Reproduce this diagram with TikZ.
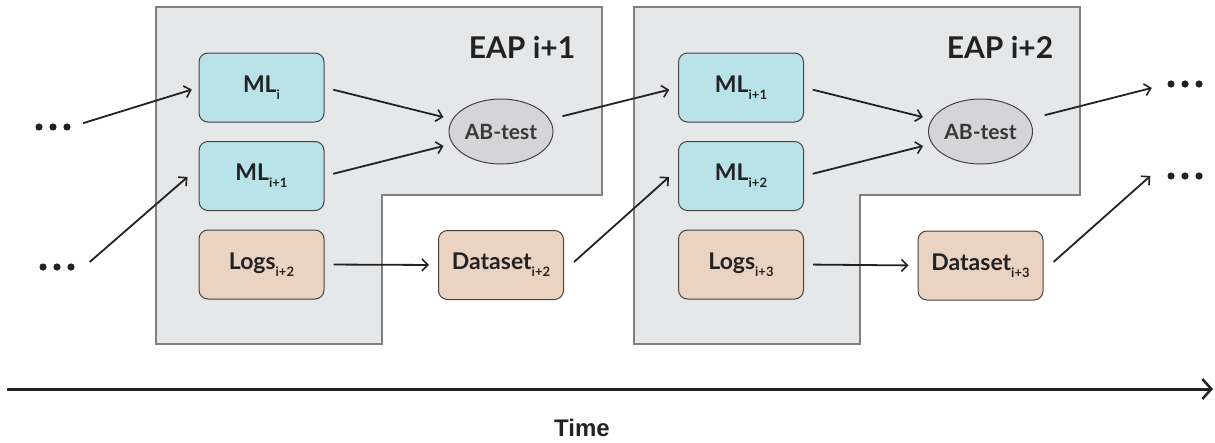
\documentclass[tikz,border=0pt]{standalone}
\usepackage{fontspec}
\setmainfont{Lato}
\newfontfamily\timefont{Liberation Sans}
\usetikzlibrary{arrows.meta,calc,shapes.geometric}
\definecolor{panelfill}{HTML}{E6E7E9}
\definecolor{paneldraw}{HTML}{808080}
\definecolor{mlfill}{HTML}{B9E3E9}
\definecolor{logfill}{HTML}{EBD3C2}
\definecolor{abfill}{HTML}{D5D5D7}
\definecolor{ink}{HTML}{222222}
\newcommand\sbx[1]{\raisebox{-0.3em}{\fontsize{13}{13}\selectfont #1}}
\tikzset{
  panel/.style={fill=panelfill, draw=paneldraw, line width=2pt, line join=miter},
  box/.style={draw=ink!85, line width=1pt, rounded corners=9pt, minimum width=125pt,
    minimum height=69pt, inner sep=0pt, font=\fontsize{23}{23}\selectfont\bfseries, text=ink},
  mlbox/.style={box, fill=mlfill},
  logbox/.style={box, fill=logfill},
  abnode/.style={ellipse, draw=ink!85, line width=1pt, fill=abfill, minimum width=104pt,
    minimum height=65pt, inner sep=0pt, font=\fontsize{21}{21}\selectfont\bfseries, text=ink!90},
  eaplabel/.style={font=\fontsize{30}{30}\selectfont\bfseries, text=ink},
  arr/.style={draw=ink, line width=1.8pt, -{Straight Barb[length=6pt,width=12pt,line width=1.6pt]}},
  dots/.style={minimum width=35pt, minimum height=8pt, inner sep=0pt,
    path picture={\foreach \k in {-1,0,1}
      \fill[ink] ($(path picture bounding box.center)+(\k*14pt,0)$) circle (3.6pt);}},
}
\begin{document}
\begin{tikzpicture}[x=1pt,y=-1pt]
\useasboundingbox (0,0) rectangle (1215,442);
% panels
\draw[panel] (156,7) -- (602,7) -- (602,195) -- (382,195) -- (382,344) -- (156,344) -- cycle;
\draw[panel] (634,7) -- (1080,7) -- (1080,195) -- (860,195) -- (860,344) -- (634,344) -- cycle;
\node[eaplabel] (eap1) at (522,47) {EAP i+1};
\node[eaplabel] (eap2) at (1000,47) {EAP i+2};
% panel 1 nodes
\node[mlbox] (mla) at (261.5,87.5) {ML\sbx{i}};
\node[mlbox] (mlb) at (261.5,176) {ML\sbx{i+1}};
\node[logbox] (lga) at (261.5,264.5) {Logs\sbx{i+2}};
\node[logbox] (dsa) at (501,265) {Dataset\sbx{i+2}};
\node[abnode] (aba) at (501,131.5) {AB-test};
% panel 2 nodes
\node[mlbox] (mlc) at (741,87.5) {ML\sbx{i+1}};
\node[mlbox] (mld) at (741,176) {ML\sbx{i+2}};
\node[logbox] (lgb) at (741,264.5) {Logs\sbx{i+3}};
\node[logbox] (dsb) at (980.5,265.5) {Dataset\sbx{i+3}};
\node[abnode] (abb) at (980.5,131.5) {AB-test};
% dots
\node[dots] (dl1) at (53,127) {};
\node[dots] (dl2) at (57,267) {};
\node[dots] (dr1) at (1185,84) {};
\node[dots] (dr2) at (1185,176) {};
% connectors
\draw[arr, shorten <=13pt, shorten >=7pt] (dl1.east) -- (mla.west);
\draw[arr] ([xshift=15pt,yshift=5pt]dl2.east) -- ([xshift=-11pt,yshift=-1pt]mlb.west);
\draw[arr, shorten <=9pt, shorten >=9pt] (mla.east) -- (aba);
\draw[arr, shorten <=9pt, shorten >=9pt] (mlb.east) -- (aba);
\draw[arr, shorten <=9pt, shorten >=9pt] (lga.east) -- (dsa.west);
\draw[arr, shorten <=13pt, shorten >=9pt] (aba) -- (mlc.west);
\draw[arr] ([xshift=10pt,yshift=3pt]dsa.east) -- ([xshift=-9pt,yshift=-1pt]mld.west);
\draw[arr, shorten <=9pt, shorten >=9pt] (mlc.east) -- (abb);
\draw[arr, shorten <=9pt, shorten >=9pt] (mld.east) -- (abb);
\draw[arr, shorten <=9pt, shorten >=9pt] (lgb.east) -- (dsb.west);
\draw[arr, shorten <=16pt, shorten >=16pt] (abb) -- (dr1.west);
\draw[arr] ([xshift=10pt,yshift=3.5pt]dsb.east) -- ([xshift=-17pt]dr2.west);
% time axis
\coordinate (t0) at (7,389);
\coordinate (t1) at (1213,389);
\draw[draw=ink, line width=3pt, -{Straight Barb[length=9pt,width=20pt,line width=2.5pt]}] (t0) -- (t1);
\node[font=\timefont\fontsize{24}{24}\selectfont\bfseries, text=ink] (time) at (582,428) {Time};
\end{tikzpicture}
\end{document}
